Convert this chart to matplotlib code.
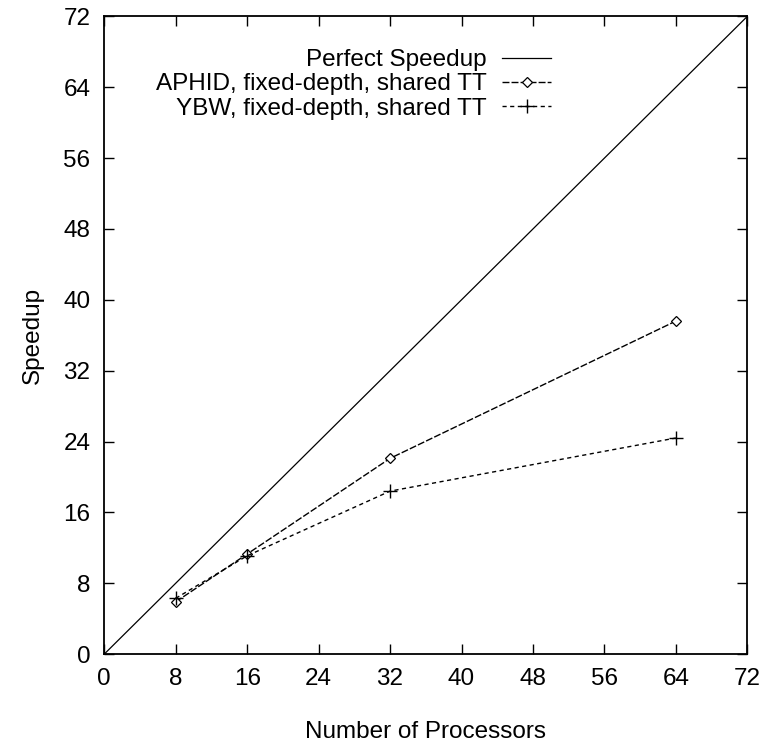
import matplotlib
matplotlib.use("Agg")
import matplotlib.pyplot as plt

# data
procs = [8, 16, 32, 64]
aphid = [5.9, 11.3, 22.1, 37.6]
ybw = [6.3, 11.1, 18.4, 24.4]
perfect_x = [0, 72]
perfect_y = [0, 72]
ticks = list(range(0, 73, 8))

plt.rcParams['font.family'] = ['Liberation Sans', 'DejaVu Sans']
fs = 17.5

fig = plt.figure(figsize=(7.61, 7.45), dpi=100)
ax = fig.add_axes([0.137, 0.122, 0.845, 0.856])

ax.plot(perfect_x, perfect_y, color='black', lw=0.9, label='Perfect Speedup')
ax.plot(procs, aphid, color='black', lw=1.0, ls=(0, (5, 1.5)),
        marker='D', ms=5, mfc='white', mec='black', mew=0.9,
        label='APHID, fixed-depth, shared TT')
ax.plot(procs, ybw, color='black', lw=1.0, ls=(0, (3, 2.5)),
        marker='+', ms=10, mew=1.0,
        label='YBW, fixed-depth, shared TT')

ax.set_xlim(0, 72)
ax.set_ylim(0, 72)
ax.set_xticks(ticks)
ax.set_yticks(ticks)
ax.tick_params(direction='in', length=7, width=1.0, top=True, right=True,
               labelsize=fs, pad=10)
for s in ax.spines.values():
    s.set_linewidth(1.3)

ax.set_xlabel('Number of Processors', fontsize=fs, labelpad=22)
ax.set_ylabel('Speedup', fontsize=fs, labelpad=14)

leg = ax.legend(loc='upper right', bbox_to_anchor=(551 / 761, 1 - 49 / 745),
                bbox_transform=fig.transFigure, frameon=False,
                markerfirst=False, handlelength=2.0, handletextpad=0.65,
                labelspacing=0.1, fontsize=fs, borderaxespad=0, borderpad=0)
for t in leg.get_texts():
    t.set_ha('right')
leg._legend_box.align = 'right'

fig.savefig('out.png', dpi=100)
